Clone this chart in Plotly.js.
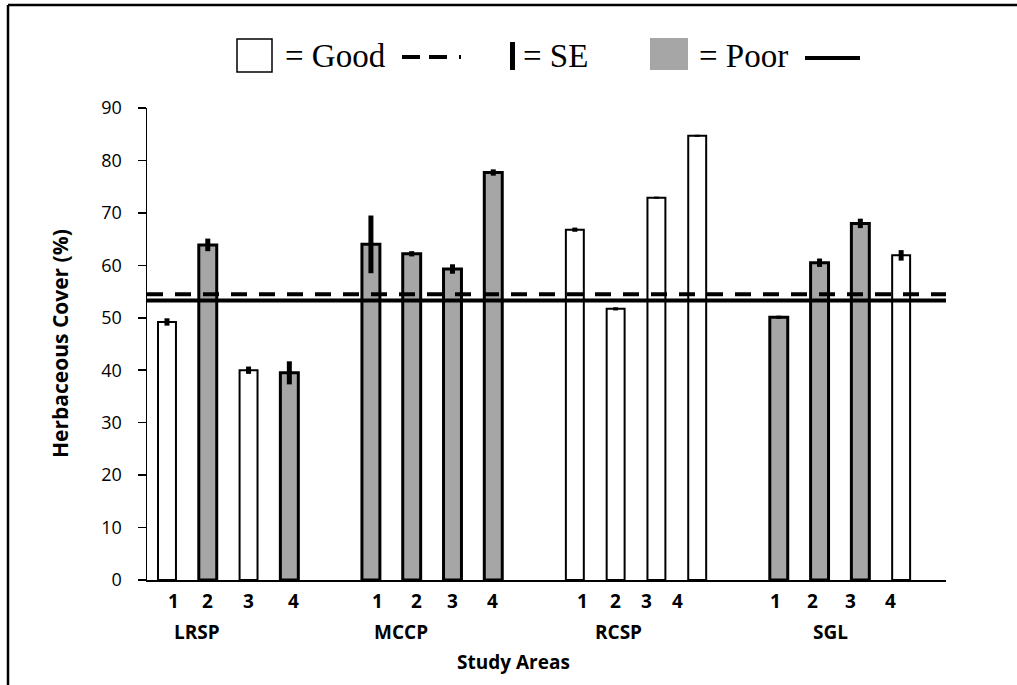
<!DOCTYPE html>
<html>
<head>
<meta charset="utf-8">
<script src="https://cdn.plot.ly/plotly-3.0.1.min.js"></script>
<style>
  html, body { margin: 0; padding: 0; background: #ffffff; }
  #chart { width: 1017px; height: 685px; }
</style>
</head>
<body>
<div id="chart"></div>
<script>
// Study areas and the four sites sampled in each
const areas = ['LRSP', 'MCCP', 'RCSP', 'SGL'];
const sites = ['1', '2', '3', '4'];

// Mean herbaceous cover (%) per site, in area order
const cover = [49.2, 63.9, 40.0, 39.5,
               64.0, 62.2, 59.3, 77.7,
               66.8, 51.7, 72.9, 84.7,
               50.1, 60.5, 68.0, 61.9];

// Standard error of each mean
const se = [0.7, 1.2, 0.7, 2.2,
            5.5, 0.5, 0.9, 0.6,
            0.4, 0.3, 0.2, 0.2,
            0.3, 0.8, 0.9, 1.0];

// Site condition class
const condition = ['Good', 'Poor', 'Good', 'Poor',
                   'Poor', 'Poor', 'Poor', 'Poor',
                   'Good', 'Good', 'Good', 'Good',
                   'Poor', 'Poor', 'Poor', 'Good'];

// Mean cover across Good and Poor sites
const goodMean = 54.5;
const poorMean = 53.3;

const xTitle = 'Study Areas';
const yTitle = 'Herbaceous Cover (%)';

// ---- layout geometry ----
const W = 1017, H = 685;
const M = { l: 147, r: 71, t: 108, b: 105 };
const PW = W - M.l - M.r, PH = H - M.t - M.b;
const px = x => (x - M.l) / PW;          // page pixel -> paper x
const py = y => (H - M.b - y) / PH;      // page pixel -> paper y

// each area occupies four slots plus one empty slot as a gap
const slot = i => Math.floor(i / sites.length) * (sites.length + 1) + (i % sites.length);

function series(cls) {
  const x = [], y = [], e = [];
  cover.forEach((v, i) => {
    if (condition[i] === cls) { x.push(slot(i)); y.push(v); e.push(se[i]); }
  });
  return { x, y, e };
}

const good = series('Good');
const poor = series('Poor');

const traces = [
  {
    type: 'bar', name: 'Good', x: good.x, y: good.y, width: 0.44,
    marker: { color: '#ffffff', line: { color: '#000000', width: 2 } },
    error_y: { type: 'data', array: good.e, visible: true, thickness: 5, width: 0, color: '#000000' },
    hoverinfo: 'y'
  },
  {
    type: 'bar', name: 'Poor', x: poor.x, y: poor.y, width: 0.44,
    marker: { color: '#a6a6a6', line: { color: '#000000', width: 3 } },
    error_y: { type: 'data', array: poor.e, visible: true, thickness: 5, width: 0, color: '#000000' },
    hoverinfo: 'y'
  }
];

// site number labels under each group (x in slot units)
const siteLabelX = [
  [0.17, 1.00, 1.99, 3.09],
  [5.17, 6.11, 6.99, 7.97],
  [10.18, 10.99, 11.75, 12.51],
  [14.93, 15.82, 16.76, 17.74]
];
const areaLabelX = [0.74, 5.74, 11.06, 16.26];

const sansFamily = 'Open Sans, Noto Sans, sans-serif';
const digitFont = { family: sansFamily, size: 19, color: '#000000' };
const labelFont = { family: sansFamily, size: 19, color: '#000000' };
const annotations = [];
areas.forEach((a, g) => {
  sites.forEach((s, k) => {
    annotations.push({
      xref: 'x', yref: 'paper', x: siteLabelX[g][k], y: py(601),
      text: '<b>' + s + '</b>', showarrow: false, font: digitFont,
      xanchor: 'center', yanchor: 'middle'
    });
  });
  annotations.push({
    xref: 'x', yref: 'paper', x: areaLabelX[g], y: py(632),
    text: '<b>' + a + '</b>', showarrow: false, font: labelFont,
    xanchor: 'center', yanchor: 'middle'
  });
});
// axis titles
annotations.push({
  xref: 'paper', yref: 'paper', x: px(513), y: py(662),
  text: '<b>' + xTitle + '</b>', showarrow: false, font: labelFont,
  xanchor: 'center', yanchor: 'middle'
});
annotations.push({
  xref: 'paper', yref: 'paper', x: px(60), y: py(344), textangle: -90,
  text: '<b>' + yTitle + '</b>', showarrow: false,
  font: { family: sansFamily, size: 21, color: '#000000' },
  xanchor: 'center', yanchor: 'middle'
});

// key across the top
const keyFont = { family: 'Liberation Serif, Times New Roman, serif', size: 33, color: '#000000' };
[['= Good', 283], ['= SE', 521], ['= Poor', 697]].forEach(([t, x]) => {
  annotations.push({
    xref: 'paper', yref: 'paper', x: px(x), y: py(56), text: t, showarrow: false,
    font: keyFont, xanchor: 'left', yanchor: 'middle'
  });
});

const shapes = [
  // mean lines
  { type: 'line', xref: 'paper', yref: 'y', x0: 0, x1: 1, y0: goodMean, y1: goodMean,
    line: { color: '#000000', width: 4, dash: '16px,12px' }, layer: 'above' },
  { type: 'line', xref: 'paper', yref: 'y', x0: 0, x1: 1, y0: poorMean, y1: poorMean,
    line: { color: '#000000', width: 4 }, layer: 'above' },
  // key symbols
  { type: 'rect', xref: 'paper', yref: 'paper', x0: px(237), x1: px(272), y0: py(72), y1: py(39),
    fillcolor: '#ffffff', line: { color: '#000000', width: 1.5 } },
  { type: 'line', xref: 'paper', yref: 'paper', x0: px(402), x1: px(461), y0: py(57), y1: py(57),
    line: { color: '#000000', width: 4, dash: '18px,9px,18px,12px,2px,100px' } },
  { type: 'rect', xref: 'paper', yref: 'paper', x0: px(510), x1: px(515), y0: py(70), y1: py(42),
    fillcolor: '#000000', line: { width: 0 } },
  { type: 'rect', xref: 'paper', yref: 'paper', x0: px(650), x1: px(688), y0: py(70), y1: py(38),
    fillcolor: '#a6a6a6', line: { width: 0 } },
  { type: 'line', xref: 'paper', yref: 'paper', x0: px(805), x1: px(860), y0: py(58), y1: py(58),
    line: { color: '#000000', width: 4 } },
  // chart frame (left and top edges)
  { type: 'line', xref: 'paper', yref: 'paper', x0: px(8), x1: px(8), y0: py(5), y1: py(H + 5),
    line: { color: '#000000', width: 2.5 } },
  { type: 'line', xref: 'paper', yref: 'paper', x0: px(8), x1: px(W + 5), y0: py(5), y1: py(5),
    line: { color: '#000000', width: 2.5 } }
];

const layout = {
  width: W, height: H,
  margin: M,
  paper_bgcolor: '#ffffff', plot_bgcolor: '#ffffff',
  showlegend: false,
  barmode: 'overlay',
  xaxis: {
    range: [-0.49, 19.1], showgrid: false, zeroline: false,
    showline: true, linecolor: '#000000', linewidth: 2,
    ticks: '', showticklabels: false, fixedrange: true
  },
  yaxis: {
    range: [0, 90], dtick: 10, showgrid: false, zeroline: false,
    showline: true, linecolor: '#000000', linewidth: 1.5,
    ticks: 'outside', ticklen: 8, tickwidth: 1.5, tickcolor: '#000000',
    ticklabelstandoff: 12,
    tickfont: { family: sansFamily, size: 18, color: '#000000' },
    fixedrange: true
  },
  annotations: annotations,
  shapes: shapes
};

Plotly.newPlot('chart', traces, layout, { displayModeBar: false, staticPlot: true });
</script>
</body>
</html>
